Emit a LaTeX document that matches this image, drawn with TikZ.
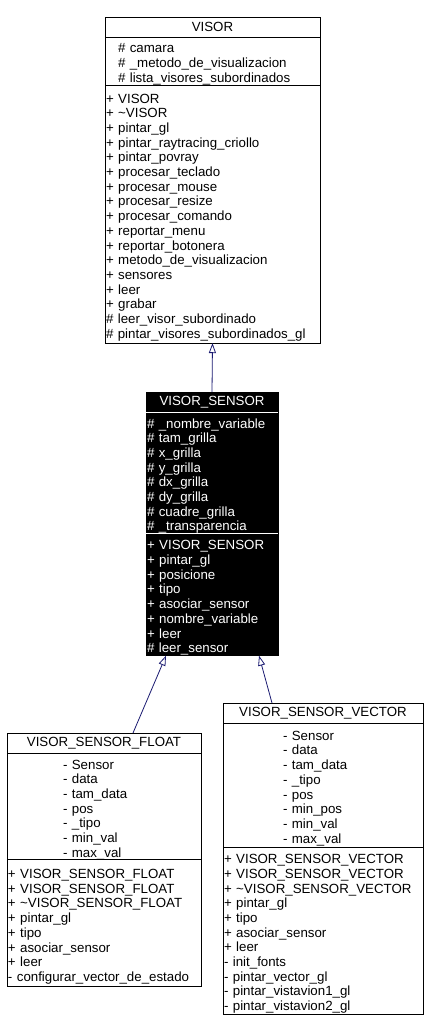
\documentclass[tikz,border=0pt]{standalone}
\usepackage{fontspec}
\setmainfont{Liberation Sans}
\usetikzlibrary{positioning,arrows.meta}
\definecolor{edgeblue}{HTML}{191970}
\begin{document}
\begin{tikzpicture}
[x=1pt,y=-1pt,%
  every node/.style={font=\fontsize{13.3}{14.7}\selectfont,inner sep=0pt,outer sep=0pt,line width=0.8pt},%
  classname/.style={draw,fill=white,minimum height=20pt,text width=#1,align=center},%
  members/.style 2 args={draw,fill=white,inner xsep=#1,text width=#2,align=left,
    execute at begin node=\rule{0pt}{16pt}},%
  dark/.style={draw=black,fill=black,text=white},%
  inherit/.style={draw=edgeblue,line width=0.8pt,-{Triangle[open,length=10pt,width=7pt]}}]
\useasboundingbox (0,0) rectangle (428,1030);

% VISOR
\node[classname=215pt,anchor=north west] (visor name) at (105,17) {VISOR};
\node[members={13pt}{189pt},minimum height=48pt,below=0pt of visor name] (visor attr)
  {\# camara\\
   \# \_metodo\_de\_visualizacion\\
   \# lista\_visores\_subordinados};
\node[members={1pt}{213pt},minimum height=258pt,below=0pt of visor attr] (visor meth)
  {+ VISOR\\
   + \textasciitilde VISOR\\
   + pintar\_gl\\
   + pintar\_raytracing\_criollo\\
   + pintar\_povray\\
   + procesar\_teclado\\
   + procesar\_mouse\\
   + procesar\_resize\\
   + procesar\_comando\\
   + reportar\_menu\\
   + reportar\_botonera\\
   + metodo\_de\_visualizacion\\
   + sensores\\
   + leer\\
   + grabar\\
   \# leer\_visor\_subordinado\\
   \# pintar\_visores\_subordinados\_gl};

% VISOR_SENSOR
\node[classname=132pt,dark,anchor=north west] (sensor name) at (146,392) {VISOR\_SENSOR};
\node[members={1pt}{130pt},dark,minimum height=121pt,below=0pt of sensor name] (sensor attr)
  {\# \_nombre\_variable\\
   \# tam\_grilla\\
   \# x\_grilla\\
   \# y\_grilla\\
   \# dx\_grilla\\
   \# dy\_grilla\\
   \# cuadre\_grilla\\
   \# \_transparencia};
\node[members={1pt}{130pt},dark,minimum height=122pt,below=0pt of sensor attr] (sensor meth)
  {+ VISOR\_SENSOR\\
   + pintar\_gl\\
   + posicione\\
   + tipo\\
   + asociar\_sensor\\
   + nombre\_variable\\
   + leer\\
   \# leer\_sensor};
\draw[white,line width=0.8pt] (sensor name.south west) -- (sensor name.south east);
\draw[white,line width=0.8pt] (sensor attr.south west) -- (sensor attr.south east);

% VISOR_SENSOR_FLOAT
\node[classname=194pt,anchor=north west] (float name) at (7,733) {VISOR\_SENSOR\_FLOAT};
\node[members={56pt}{82pt},minimum height=104pt,below=0pt of float name] (float attr)
  {- Sensor\\
   - data\\
   - tam\_data\\
   - pos\\
   - \_tipo\\
   - min\_val\\
   - max\_val};
\node[members={1pt}{192pt},minimum height=127pt,below=0pt of float attr] (float meth)
  {+ VISOR\_SENSOR\_FLOAT\\
   + VISOR\_SENSOR\_FLOAT\\
   + \textasciitilde VISOR\_SENSOR\_FLOAT\\
   + pintar\_gl\\
   + tipo\\
   + asociar\_sensor\\
   + leer\\
   - configurar\_vector\_de\_estado};

% VISOR_SENSOR_VECTOR
\node[classname=200pt,anchor=north west] (vector name) at (223,703) {VISOR\_SENSOR\_VECTOR};
\node[members={60pt}{80pt},minimum height=124pt,below=0pt of vector name] (vector attr)
  {- Sensor\\
   - data\\
   - tam\_data\\
   - \_tipo\\
   - pos\\
   - min\_pos\\
   - min\_val\\
   - max\_val};
\node[members={1pt}{198pt},minimum height=167pt,below=0pt of vector attr] (vector meth)
  {+ VISOR\_SENSOR\_VECTOR\\
   + VISOR\_SENSOR\_VECTOR\\
   + \textasciitilde VISOR\_SENSOR\_VECTOR\\
   + pintar\_gl\\
   + tipo\\
   + asociar\_sensor\\
   + leer\\
   - init\_fonts\\
   - pintar\_vector\_gl\\
   - pintar\_vistavion1\_gl\\
   - pintar\_vistavion2\_gl};

% inheritance
\draw[inherit] (sensor name.north) -- (visor meth.south);
\draw[inherit] ([xshift=29pt]float name.north) -- ([xshift=-46pt]sensor meth.south);
\draw[inherit] ([xshift=-51pt]vector name.north) -- ([xshift=47pt]sensor meth.south);
\end{tikzpicture}
\end{document}
